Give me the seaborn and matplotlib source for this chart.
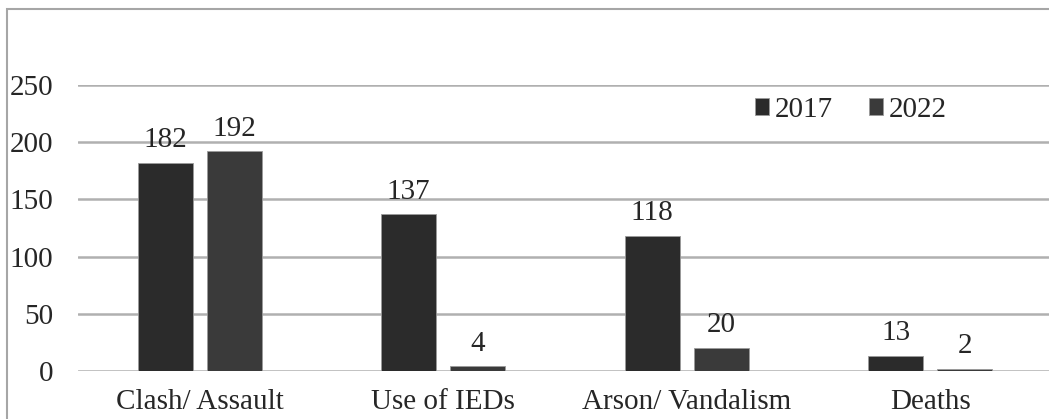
import pandas as pd
import numpy as np
import matplotlib
matplotlib.use('Agg')
import matplotlib.pyplot as plt
from matplotlib.patches import Rectangle
import seaborn as sns

# Data
categorias = ['Clash/ Assault', 'Use of IEDs', 'Arson/ Vandalism', 'Deaths']
anos = ['2017', '2022']
valores_2017 = [182, 137, 118, 13]
valores_2022 = [192, 4, 20, 2]
yticks = [0, 50, 100, 150, 200, 250]

df = pd.DataFrame({
    'Categoria': categorias * 2,
    'Ano': [anos[0]] * len(categorias) + [anos[1]] * len(categorias),
    'Valor': valores_2017 + valores_2022,
})

sns.set_style('white')
plt.rcParams['font.family'] = ['Liberation Serif', 'DejaVu Serif']
fs = 21

fig = plt.figure(figsize=(10.49, 4.19), dpi=100)
ax = fig.add_axes([78 / 1049, 48 / 419, 974 / 1049, 286 / 419])

cores = {'2017': '#2b2b2b', '2022': '#3a3a3a'}
sns.barplot(data=df, x='Categoria', y='Valor', hue='Ano', hue_order=anos,
            palette=cores, width=0.567, gap=0.21, ax=ax,
            edgecolor='#9a9a9a', linewidth=0.6, zorder=3)

for cont in ax.containers:
    ax.bar_label(cont, fmt='%d', padding=7, fontsize=fs)

ax.set_ylim(0, 250)
ax.set_xlim(-0.5, 3.5)
ax.set_yticks(yticks)
ax.yaxis.grid(True, color='#b0b0b0', linewidth=1.8, zorder=0)
ax.xaxis.grid(False)
for s in ax.spines.values():
    s.set_visible(False)
ax.tick_params(axis='both', length=0, labelsize=fs)
ax.tick_params(axis='y', pad=18)
ax.tick_params(axis='x', pad=13)
ax.set_xlabel('')
ax.set_ylabel('')

leg = ax.legend(loc='upper right', bbox_to_anchor=(0.904, 0.999), ncol=2,
                frameon=False, fontsize=fs, handlelength=0.48, handleheight=0.48,
                handletextpad=0.2, columnspacing=1.25, borderaxespad=0)

# Outer chart frame
fig.patches.append(Rectangle((7 / 1049, -0.1), 1.2, (419 - 9) / 419 + 0.1,
                             transform=fig.transFigure, fill=False,
                             edgecolor='#a6a6a6', linewidth=1.5))

fig.savefig('out.png', dpi=100)
